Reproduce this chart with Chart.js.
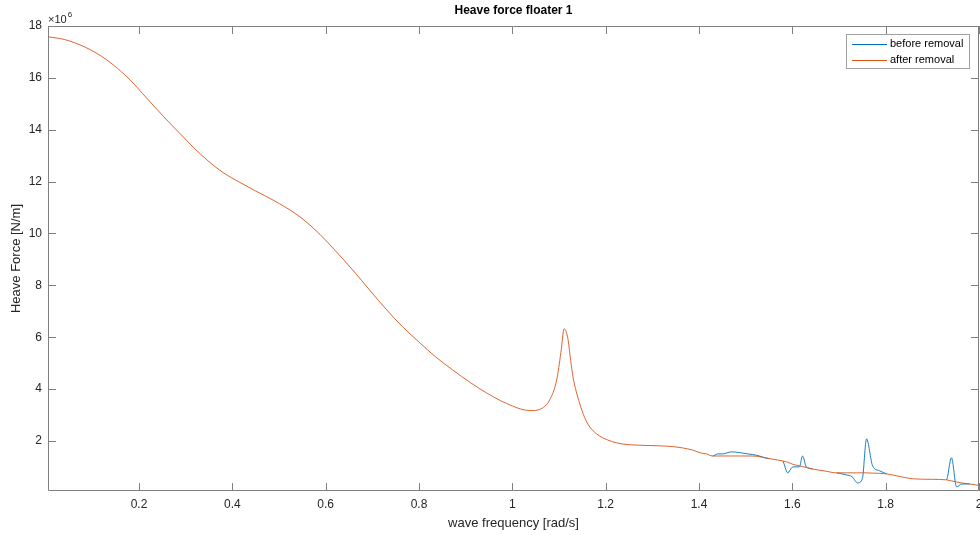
<!DOCTYPE html>
<html lang="en">
<head>
    <meta charset="UTF-8">
    <title>Heave force floater 1</title>
    <script src="https://cdn.jsdelivr.net/npm/chart.js"></script>
    <style>
        body {
            margin: 0;
            background-color: #fff;
        }
        #grafico {
            display: block;
        }
    </style>
</head>
<body>

<canvas id="grafico" width="980" height="535"></canvas>

<script>
    // wave frequency [rad/s]
    let freqs = [
        0.005, 0.03, 0.05, 0.074, 0.095, 0.1165, 0.145, 0.181, 0.2165, 0.252,
        0.288, 0.316, 0.346, 0.38, 0.416, 0.45, 0.487, 0.515, 0.545, 0.588,
        0.62, 0.658, 0.695, 0.731, 0.765, 0.802, 0.835, 0.872, 0.91, 0.945,
        0.975, 1.0, 1.02, 1.04, 1.059, 1.08, 1.095, 1.104, 1.111, 1.119,
        1.125, 1.13, 1.137, 1.144, 1.155, 1.166, 1.18, 1.194, 1.215, 1.237,
        1.28, 1.316, 1.345, 1.365, 1.386, 1.405, 1.416, 1.429, 1.44, 1.45,
        1.47, 1.487, 1.505, 1.523, 1.55, 1.579, 1.59, 1.601, 1.615, 1.622,
        1.63, 1.643, 1.67, 1.695, 1.716, 1.728, 1.74, 1.75, 1.759, 1.772,
        1.787, 1.802, 1.83, 1.858, 1.9, 1.93, 1.941, 1.952, 1.963, 1.98,
        2.0
    ];

    // Heave force, in units of 1e6 N/m
    let afterRemoval = [
        17.58, 17.52, 17.43, 17.27, 17.09, 16.87, 16.5, 15.92, 15.22, 14.52,
        13.85, 13.33, 12.83, 12.35, 11.97, 11.64, 11.29, 11.0, 10.64, 9.96,
        9.35, 8.59, 7.8, 7.05, 6.4, 5.78, 5.25, 4.74, 4.25, 3.85,
        3.55, 3.35, 3.22, 3.17, 3.22, 3.58, 4.35, 5.4, 6.32, 5.95,
        5.1, 4.47, 3.9, 3.46, 2.9, 2.54, 2.28, 2.12, 1.97, 1.88,
        1.83, 1.81, 1.78, 1.73, 1.65, 1.53, 1.5, 1.42, 1.42, 1.42,
        1.42, 1.42, 1.42, 1.41, 1.32, 1.23, 1.18, 1.1, 1.04, 1.01,
        0.98, 0.92, 0.84, 0.77, 0.77, 0.77, 0.77, 0.77, 0.77, 0.76,
        0.75, 0.73, 0.63, 0.54, 0.52, 0.5, 0.46, 0.42, 0.38, 0.34,
        0.29
    ];

    let beforeRemoval = [
        17.58, 17.52, 17.43, 17.27, 17.09, 16.87, 16.5, 15.92, 15.22, 14.52,
        13.85, 13.33, 12.83, 12.35, 11.97, 11.64, 11.29, 11.0, 10.64, 9.96,
        9.35, 8.59, 7.8, 7.05, 6.4, 5.78, 5.25, 4.74, 4.25, 3.85,
        3.55, 3.35, 3.22, 3.17, 3.22, 3.58, 4.35, 5.4, 6.32, 5.95,
        5.1, 4.47, 3.9, 3.46, 2.9, 2.54, 2.28, 2.12, 1.97, 1.88,
        1.83, 1.81, 1.78, 1.73, 1.65, 1.53, 1.5, 1.42, 1.5, 1.5,
        1.58, 1.55, 1.5, 1.45, 1.32, 1.23, 0.77, 1.0, 1.0, 1.42,
        1.0, 0.92, 0.84, 0.77, 0.69, 0.62, 0.38, 0.54, 2.08, 1.04,
        0.85, 0.73, 0.63, 0.54, 0.52, 0.5, 1.35, 0.23, 0.34, 0.34,
        0.29
    ];

    let xTicks = [0.2, 0.4, 0.6, 0.8, 1, 1.2, 1.4, 1.6, 1.8, 2];
    let yTicks = [2, 4, 6, 8, 10, 12, 14, 16, 18];

    const ejeColor = '#808080';
    const textoColor = '#262626';
    const fuente = 'Arial, "Liberation Sans", sans-serif';

    // ticks hacia dentro, caja, titulo, x10^6 y leyenda estilo MATLAB
    const matlabEjes = {
        id: 'matlabEjes',
        afterDraw(chart) {
            const ctx = chart.ctx;
            const a = chart.chartArea;
            const sx = chart.scales.x;
            const sy = chart.scales.y;
            const len = 8;

            ctx.save();
            ctx.strokeStyle = ejeColor;
            ctx.lineWidth = 1;
            ctx.beginPath();
            ctx.rect(a.left + 0.5, a.top + 0.5, a.right - a.left - 1, a.bottom - a.top - 1);
            for (let t of xTicks) {
                let px = Math.round(sx.getPixelForValue(t)) + 0.5;
                ctx.moveTo(px, a.bottom);
                ctx.lineTo(px, a.bottom - len);
                ctx.moveTo(px, a.top);
                ctx.lineTo(px, a.top + len);
            }
            for (let t of yTicks) {
                let py = Math.round(sy.getPixelForValue(t)) + 0.5;
                ctx.moveTo(a.left, py);
                ctx.lineTo(a.left + len, py);
                ctx.moveTo(a.right, py);
                ctx.lineTo(a.right - len, py);
            }
            ctx.stroke();

            // titulo
            ctx.fillStyle = '#000';
            ctx.font = 'bold 12px ' + fuente;
            ctx.textAlign = 'center';
            ctx.textBaseline = 'middle';
            ctx.fillText('Heave force floater 1', (a.left + a.right) / 2, 11);

            // multiplicador
            ctx.fillStyle = textoColor;
            ctx.textAlign = 'left';
            ctx.textBaseline = 'alphabetic';
            ctx.font = '11px ' + fuente;
            ctx.fillText('\u00d710', a.left, 23);
            let w = ctx.measureText('\u00d710').width;
            ctx.font = '8px ' + fuente;
            ctx.fillText('6', a.left + w + 1, 17);

            // leyenda
            const lx = 846, ly = 34, lw = 123, lh = 34;
            ctx.fillStyle = '#fff';
            ctx.fillRect(lx, ly, lw, lh);
            ctx.strokeStyle = '#a0a0a0';
            ctx.strokeRect(lx + 0.5, ly + 0.5, lw, lh);
            const items = [chart.data.datasets[1], chart.data.datasets[0]];
            ctx.font = '11px ' + fuente;
            ctx.textBaseline = 'middle';
            items.forEach((ds, i) => {
                let y = ly + 10 + i * 15.5;
                ctx.strokeStyle = ds.borderColor;
                ctx.beginPath();
                ctx.moveTo(lx + 6, Math.round(y) + 0.5);
                ctx.lineTo(lx + 41, Math.round(y) + 0.5);
                ctx.stroke();
                ctx.fillStyle = '#000';
                ctx.fillText(ds.label, lx + 44, y);
            });
            ctx.restore();
        }
    };

    // el tramo azul igual al naranja queda tapado por el naranja
    function tramoAzul(c) {
        let i = c.p0DataIndex, j = c.p1DataIndex;
        let igual = beforeRemoval[i] === afterRemoval[i] && beforeRemoval[j] === afterRemoval[j];
        return igual ? 'rgba(0,0,0,0)' : '#0072BD';
    }

    let ctx = document.getElementById('grafico').getContext('2d');

    let chart = new Chart(ctx, {
        type: 'line',
        data: {
            datasets: [{
                label: 'after removal',
                data: freqs.map((f, i) => ({ x: f, y: afterRemoval[i] })),
                borderColor: '#D95319',
                borderWidth: 0.9,
                pointRadius: 0,
                cubicInterpolationMode: 'monotone',
                order: 0
            }, {
                label: 'before removal',
                data: freqs.map((f, i) => ({ x: f, y: beforeRemoval[i] })),
                borderColor: '#0072BD',
                borderWidth: 0.9,
                pointRadius: 0,
                cubicInterpolationMode: 'monotone',
                segment: { borderColor: tramoAzul },
                order: 1
            }]
        },
        options: {
            responsive: false,
            animation: false,
            layout: {
                padding: { top: 26, right: 1, left: 0, bottom: 0 }
            },
            plugins: {
                legend: { display: false },
                tooltip: { enabled: false }
            },
            scales: {
                x: {
                    type: 'linear',
                    min: 0.005,
                    max: 2,
                    afterBuildTicks: (s) => { s.ticks = xTicks.map(v => ({ value: v })); },
                    afterFit: (s) => { s.height = 44; s.paddingLeft = 0; s.paddingRight = 0; },
                    grid: { display: false, drawTicks: false },
                    border: { display: false },
                    ticks: {
                        padding: 6,
                        color: textoColor,
                        font: { size: 12, family: fuente },
                        maxRotation: 0,
                        autoSkip: false,
                        callback: (v) => String(v)
                    },
                    title: {
                        display: true,
                        text: 'wave frequency [rad/s]',
                        color: textoColor,
                        font: { size: 13, family: fuente },
                        padding: { top: 0, bottom: 4 }
                    }
                },
                y: {
                    min: 0.07,
                    max: 18,
                    afterBuildTicks: (s) => { s.ticks = yTicks.map(v => ({ value: v })); },
                    afterFit: (s) => { s.width = 48; s.paddingTop = 0; s.paddingBottom = 0; },
                    grid: { display: false, drawTicks: false },
                    border: { display: false },
                    ticks: {
                        padding: 6,
                        color: textoColor,
                        font: { size: 12, family: fuente },
                        autoSkip: false,
                        callback: (v) => String(v)
                    },
                    title: {
                        display: true,
                        text: 'Heave Force [N/m]',
                        color: textoColor,
                        font: { size: 13, family: fuente },
                        padding: { top: 9, bottom: 0 }
                    }
                }
            }
        },
        plugins: [matlabEjes]
    });
</script>

</body>
</html>
